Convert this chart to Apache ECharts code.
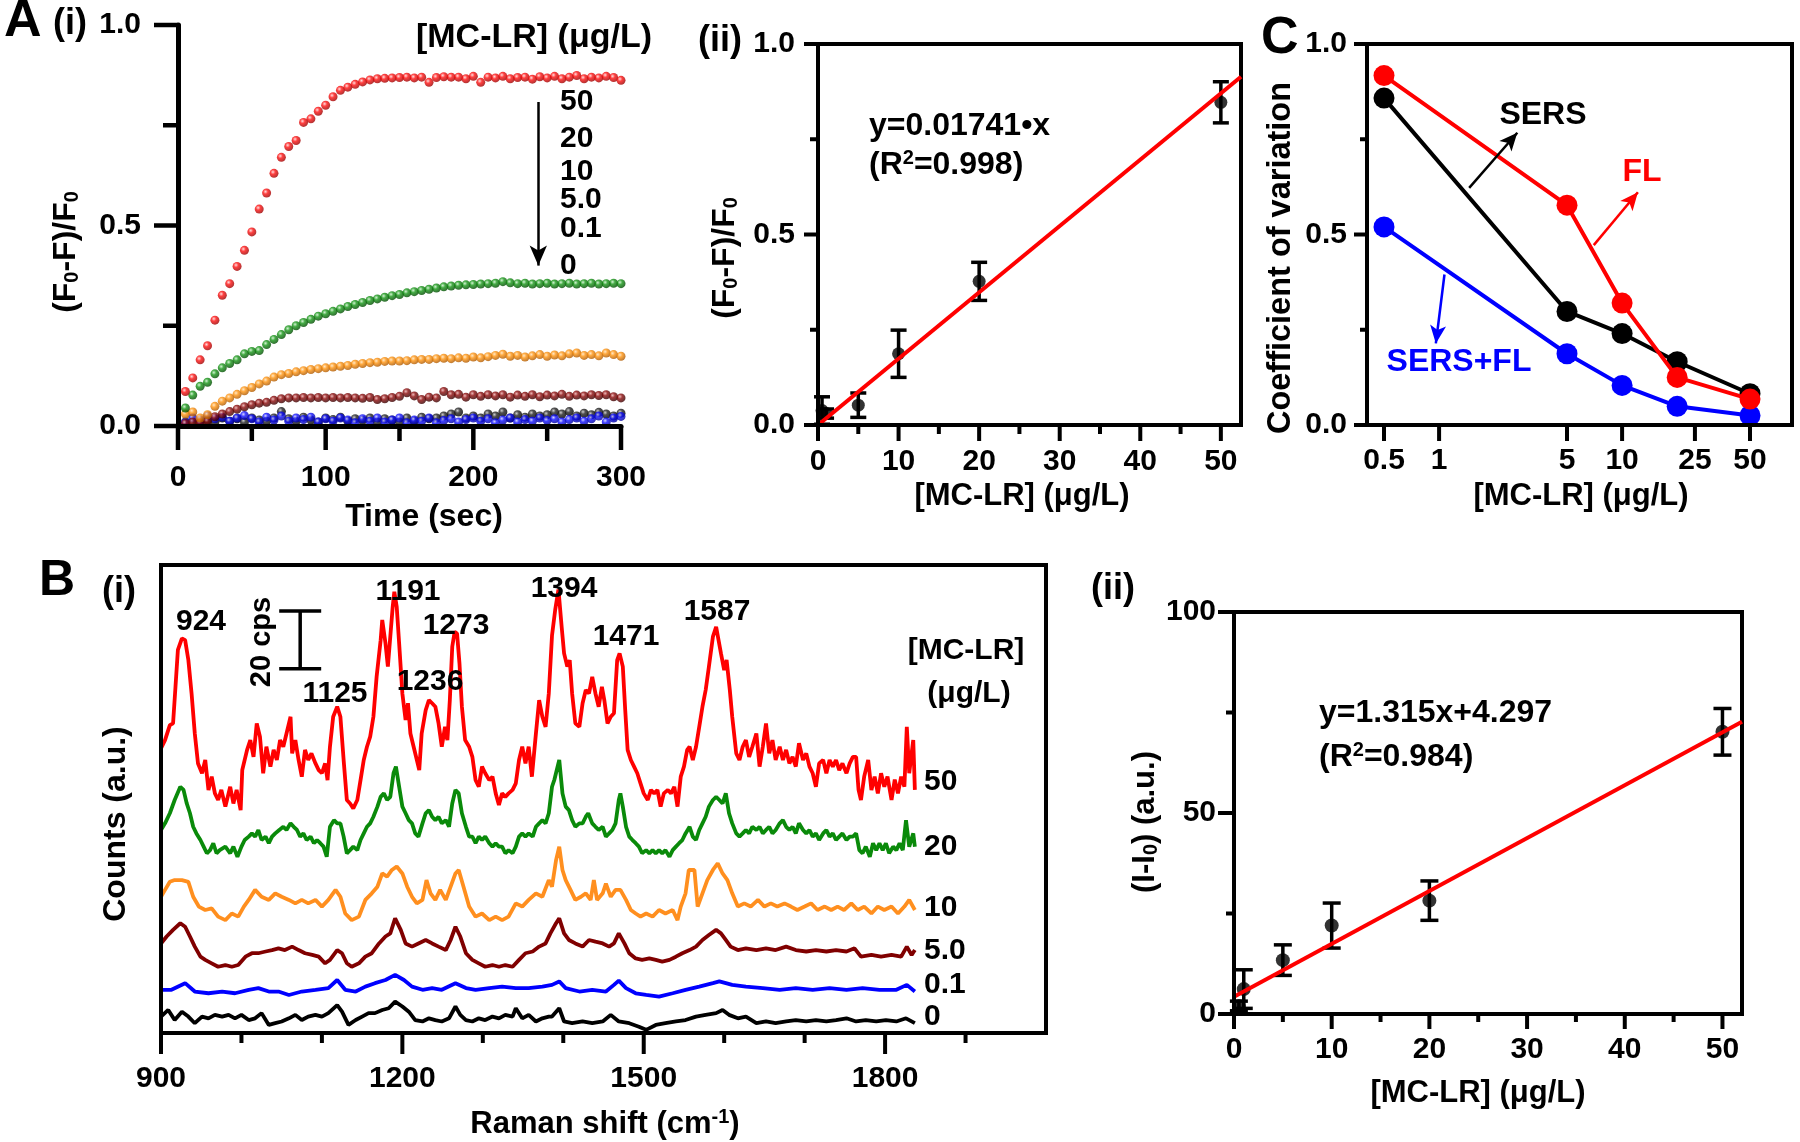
<!DOCTYPE html>
<html><head><meta charset="utf-8">
<script src="https://cdn.jsdelivr.net/npm/echarts@6.0.0/dist/echarts.min.js"></script>
<style>html,body{margin:0;padding:0;background:#fff}#c{width:1800px;height:1142px}</style>
</head><body><div id="c"></div>
<script>
// ---------- DATA ----------
// A(i): kinetics (F0-F)/F0 vs time (sec)
const tSec = [5,10,15,20,25,30,35,40,45,50,55,60,65,70,75,80,85,90,95,100,105,110,115,120,125,130,135,140,145,150,155,160,165,170,175,180,185,190,195,200,205,210,215,220,225,230,235,240,245,250,255,260,265,270,275,280,285,290,295,300];
const kin50 = [0.086,0.12,0.165,0.20,0.264,0.326,0.355,0.398,0.438,0.484,0.541,0.581,0.63,0.67,0.697,0.712,0.757,0.766,0.785,0.80,0.821,0.837,0.845,0.852,0.858,0.863,0.866,0.867,0.868,0.869,0.87,0.868,0.87,0.857,0.869,0.871,0.87,0.87,0.866,0.872,0.857,0.87,0.868,0.872,0.866,0.869,0.87,0.865,0.871,0.868,0.872,0.866,0.87,0.874,0.866,0.87,0.868,0.872,0.869,0.862];
const kin20 = [0.045,0.077,0.099,0.109,0.13,0.145,0.156,0.165,0.18,0.186,0.188,0.203,0.216,0.228,0.24,0.25,0.258,0.266,0.274,0.28,0.286,0.292,0.298,0.303,0.308,0.313,0.317,0.321,0.325,0.328,0.332,0.335,0.338,0.341,0.344,0.347,0.349,0.351,0.352,0.353,0.354,0.355,0.356,0.36,0.357,0.355,0.356,0.354,0.355,0.356,0.354,0.355,0.356,0.354,0.355,0.356,0.354,0.355,0.356,0.355];
const kin10 = [0.03,0.035,0.02,0.028,0.049,0.062,0.07,0.079,0.088,0.096,0.105,0.112,0.122,0.128,0.131,0.135,0.138,0.141,0.143,0.145,0.147,0.149,0.151,0.154,0.156,0.158,0.159,0.161,0.162,0.162,0.163,0.165,0.166,0.166,0.168,0.169,0.168,0.17,0.169,0.172,0.17,0.173,0.176,0.179,0.174,0.176,0.172,0.175,0.178,0.174,0.177,0.175,0.18,0.182,0.176,0.178,0.175,0.182,0.178,0.174];
const kin5 = [0.006,0.01,0.008,0.012,0.023,0.03,0.036,0.042,0.048,0.053,0.057,0.059,0.064,0.068,0.07,0.07,0.071,0.07,0.071,0.07,0.071,0.07,0.071,0.07,0.069,0.071,0.066,0.068,0.071,0.074,0.083,0.075,0.066,0.072,0.07,0.086,0.078,0.079,0.072,0.078,0.074,0.078,0.075,0.078,0.072,0.077,0.074,0.078,0.073,0.077,0.075,0.079,0.074,0.077,0.075,0.078,0.076,0.078,0.073,0.07];
const kin01 = [0.008,0.02,0.015,0.025,0.018,0.022,0.012,0.02,0.026,0.018,0.01,0.022,0.015,0.025,0.012,0.02,0.016,0.022,0.01,0.018,0.012,0.02,0.015,0.008,0.018,0.012,0.02,0.01,0.015,0.02,0.008,0.015,0.012,0.02,0.008,0.014,0.018,0.01,0.016,0.02,0.012,0.018,0.008,0.015,0.02,0.01,0.016,0.012,0.02,0.014,0.018,0.01,0.016,0.02,0.012,0.018,0.025,0.01,0.02,0.024];
const kin0 = [0.01,0.005,0.012,0.015,0.01,0.02,0.012,0.018,0.01,0.02,0.015,0.012,0.02,0.036,0.018,0.012,0.022,0.015,0.01,0.02,0.016,0.022,0.012,0.018,0.014,0.02,0.01,0.018,0.015,0.01,0.02,0.012,0.022,0.018,0.02,0.025,0.03,0.035,0.02,0.025,0.02,0.03,0.025,0.035,0.02,0.028,0.022,0.03,0.025,0.028,0.035,0.03,0.036,0.025,0.032,0.028,0.034,0.03,0.025,0.032];
const concLabels = ['50','20','10','5.0','0.1','0'];

// A(ii): FL calibration
const calConc = [0.5,1,5,10,20,50];
const flMean = [0.038,0.03,0.052,0.187,0.377,0.847];
const flErr  = [0.036,0.012,0.032,0.062,0.05,0.054];
const flFit  = [[0,0],[52.5,0.914]];          // y=0.01741x

// C: coefficient of variation
const cvConc = [0.5,5,10,20,50];
const cvFL   = [0.917,0.577,0.32,0.125,0.068];
const cvSERS = [0.858,0.298,0.24,0.166,0.082];
const cvBoth = [0.52,0.187,0.104,0.049,0.025];

// tick values
const tkTime = [0,100,200,300], tkTimeMinor = [50,150,250];
const tkUnit = [0,0.5,1], tkUnitMinor = [0.25,0.75];
const tkConc = [0,10,20,30,40,50], tkConcMinor = [5,15,25,35,45];
const tkCv = [0.5,1,5,10,25,50];
const tkRaman = [900,1200,1500,1800], tkRamanMinor = [1000,1100,1300,1400,1600,1700,1900];
const tkInt = [0,50,100], tkIntMinor = [25,75];

// B(i): SERS spectra [Raman shift, counts incl. stacking offset]
const spec50 = [[900,98.8],[905,101.7],[911,106.9],[915,107.5],[918,120.2],[921,133],[926,137],[930,136.4],[934,129.5],[938,117.9],[942,104],[946,93.6],[951,90.2],[955,94.8],[959,84.4],[963,89],[967,83.2],[971,80.9],[975,84.4],[980,78.6],[986,85.5],[990,79.7],[994,84.4],[999,77.4],[1001,91.3],[1007,98.3],[1011,101.7],[1015,95.9],[1019,107.5],[1023,102.9],[1027,90.2],[1031,99.4],[1036,92.5],[1040,98.3],[1044,94.8],[1048,101.7],[1052,99.4],[1056,104],[1061,109.8],[1063,97.1],[1067,101.7],[1071,94.8],[1075,89],[1079,98.3],[1083,94.8],[1087,97.1],[1092,93.6],[1096,91.3],[1100,90.2],[1104,93.6],[1107,87.8],[1110,99.4],[1114,109.8],[1119,113.3],[1123,109.8],[1127,94.8],[1131,80.9],[1135,79.7],[1139,78],[1144,80.9],[1148,87.8],[1152,94.8],[1156,99.4],[1160,102.9],[1164,109.8],[1168,123.7],[1173,136.4],[1175,143.4],[1179,135.3],[1182,127.2],[1185,137.6],[1188,148],[1190,153.2],[1193,148],[1196,135.3],[1200,117.9],[1204,108.7],[1207,114.5],[1210,104],[1214,99.4],[1218,94.8],[1221,91.3],[1224,104],[1229,112.1],[1233,115.6],[1237,114.5],[1241,113.3],[1245,107.5],[1249,99.4],[1253,106.3],[1256,101.7],[1259,115.6],[1262,134.1],[1265,139.3],[1268,138.7],[1271,128.3],[1274,113.3],[1278,101.7],[1283,99.4],[1287,95.9],[1291,87.8],[1295,85.5],[1299,92.5],[1303,90.2],[1308,87.8],[1312,89],[1316,83.2],[1320,79.2],[1324,83.2],[1328,82],[1332,83.2],[1337,84.4],[1341,86.7],[1345,94.8],[1349,99.4],[1353,93.6],[1357,99.4],[1361,89],[1366,104],[1370,115.6],[1374,109.8],[1378,106.3],[1382,117.9],[1386,138],[1390,147],[1394,154],[1398,141],[1401,131.8],[1405,127.2],[1408,129.5],[1411,117.9],[1415,107.5],[1420,106.3],[1424,114.5],[1428,119.1],[1432,117.9],[1436,123.7],[1440,117.9],[1444,113.3],[1448,120.2],[1451,115.6],[1455,107.5],[1459,109.8],[1463,111],[1467,129.5],[1470,131.8],[1474,127.2],[1477,112.1],[1480,98.3],[1484,94.8],[1488,92.5],[1492,90.2],[1496,86.7],[1500,83.2],[1505,80.9],[1509,84.4],[1513,83.2],[1517,84.4],[1521,78.6],[1525,83.2],[1530,84.4],[1534,83.2],[1538,85.5],[1542,78.6],[1546,89],[1550,92.5],[1554,98.3],[1557,99.4],[1561,94.8],[1565,99.4],[1569,106.3],[1573,113.3],[1577,119.1],[1581,127.2],[1586,137.6],[1590,141],[1593,136.4],[1596,131.8],[1600,126],[1603,129.5],[1607,119.1],[1610,109.8],[1615,97.1],[1619,94.8],[1623,99.4],[1627,101.7],[1631,95.9],[1635,99.4],[1640,104],[1644,92.5],[1648,99.4],[1652,107.5],[1656,97.1],[1660,101.7],[1664,94.8],[1669,99.4],[1673,94.8],[1677,98.3],[1681,93.6],[1685,95.9],[1689,92.5],[1693,100.6],[1698,94.8],[1702,97.1],[1706,92.5],[1710,90.2],[1714,85.5],[1718,93.6],[1723,94.8],[1727,90.2],[1731,94.8],[1735,92.5],[1739,94.8],[1743,91.3],[1747,93.6],[1752,90.2],[1756,93.6],[1760,95.9],[1764,95.9],[1767,84.4],[1770,80.9],[1774,89],[1779,94.8],[1783,84.4],[1787,89],[1791,83.2],[1795,90.2],[1799,85.5],[1803,89],[1808,80.9],[1812,88],[1816,83.2],[1820,89],[1824,85.5],[1827,106.3],[1830,90.2],[1835,101.7],[1837,84.4]];
const spec20 = [[900,70.5],[905,72.8],[911,76.3],[917,80.9],[924,85.5],[928,84.4],[932,79.7],[936,76.3],[940,71.6],[944,69.3],[949,67],[953,64.7],[957,62.4],[961,63.5],[965,65.9],[969,62.4],[973,63.5],[980,64.7],[986,62.4],[990,64.7],[995,61.2],[1000,64.7],[1004,67],[1009,68.2],[1013,69.3],[1017,68.2],[1021,70.5],[1025,67],[1030,68.2],[1034,65.9],[1038,68.2],[1042,69.3],[1047,70.5],[1052,71.6],[1056,70.5],[1061,72.8],[1065,71.6],[1069,70.5],[1073,68.2],[1077,69.3],[1081,67],[1086,68.2],[1090,65.9],[1094,67],[1098,65.9],[1102,64.7],[1106,61.2],[1110,71.6],[1115,73.9],[1119,72.8],[1123,72.8],[1127,68.2],[1131,62.4],[1135,63.5],[1139,64.7],[1144,63.5],[1148,67],[1152,69.3],[1156,71.6],[1160,72.8],[1164,75.1],[1169,78.6],[1173,82],[1177,83.2],[1181,80.9],[1185,82],[1189,90.2],[1192,92.5],[1196,85.5],[1200,78.6],[1204,76.3],[1208,73.9],[1212,72.8],[1216,69.3],[1220,68.2],[1225,72.8],[1229,76.3],[1233,77.4],[1237,75.1],[1241,73.9],[1245,75.1],[1249,72.8],[1254,73.9],[1258,71.6],[1262,79.7],[1266,84.4],[1270,83.2],[1274,76.3],[1279,71.6],[1283,68.2],[1287,68.2],[1291,65.9],[1295,68.2],[1299,67],[1303,68.2],[1308,65.9],[1312,64.7],[1316,65.9],[1320,64.7],[1324,64.7],[1328,62.4],[1332,63.5],[1337,62.4],[1341,64.7],[1345,68.2],[1349,69.3],[1353,68.2],[1357,69.3],[1362,68.2],[1366,71.6],[1370,72.8],[1374,73.9],[1378,72.8],[1382,76.3],[1386,85.5],[1389,88],[1395,94.8],[1399,83.2],[1403,78.6],[1407,77.4],[1411,73.9],[1415,71.6],[1420,72.8],[1424,72.8],[1428,75.1],[1431,76.3],[1436,72.8],[1440,71.6],[1444,70.5],[1449,71.6],[1453,68.2],[1457,69.3],[1461,70.5],[1465,72.8],[1469,80.9],[1471,83.2],[1474,78.6],[1478,71.6],[1482,68.2],[1486,67],[1490,65.9],[1494,64.7],[1498,62.4],[1503,63.5],[1507,62.4],[1511,63.5],[1515,62.4],[1519,63.5],[1523,62.4],[1527,63.5],[1532,61.2],[1536,63.5],[1540,64.7],[1544,65.9],[1548,67],[1552,69.3],[1557,71.6],[1561,68.2],[1565,67],[1569,70.5],[1573,72.8],[1577,75.1],[1581,78.6],[1586,80.9],[1590,82],[1594,80.9],[1598,79.7],[1602,83.2],[1606,76.3],[1610,72.8],[1615,69.3],[1619,68.2],[1623,69.3],[1627,70.5],[1631,69.3],[1635,71.6],[1640,70.5],[1644,71.6],[1648,69.3],[1652,70.5],[1656,71.6],[1660,69.3],[1664,70.5],[1669,72.8],[1673,73.9],[1677,71.6],[1681,70.5],[1685,71.6],[1689,69.3],[1693,72.8],[1698,70.5],[1702,69.3],[1706,70.5],[1710,68.2],[1714,69.3],[1718,67],[1723,69.3],[1727,70.5],[1731,68.2],[1735,69.3],[1739,67],[1743,68.2],[1747,69.3],[1752,67],[1756,68.2],[1760,68.2],[1764,69.3],[1768,63.5],[1772,62.4],[1776,64.7],[1781,61.2],[1785,65.9],[1789,63.5],[1793,65.9],[1797,63.5],[1801,65.9],[1805,62.4],[1810,64.7],[1814,63.5],[1818,65.9],[1822,63.5],[1826,73.9],[1830,64.7],[1835,69.3],[1837,64.7]];
const spec10 = [[900,47.3],[905,49.7],[911,52.5],[917,53.1],[926,53.1],[934,52.5],[940,47.3],[947,43.9],[955,42.7],[963,43.3],[971,40.4],[980,39.2],[988,41.5],[996,40.4],[1003,43.9],[1009,46.2],[1017,49.7],[1025,47.3],[1034,46.2],[1042,48.5],[1050,47.3],[1059,46.2],[1067,45],[1075,46.2],[1083,45],[1092,46.2],[1100,43.9],[1108,46.2],[1117,49.7],[1123,47.3],[1129,41.5],[1137,39.2],[1146,40.4],[1154,46.2],[1162,48.5],[1169,50.8],[1175,55.4],[1181,54.3],[1187,56.6],[1193,57.8],[1200,55.4],[1206,50.8],[1212,47.3],[1218,45],[1225,46.2],[1230,53.1],[1235,48.5],[1241,46.2],[1247,49.7],[1254,46.2],[1260,50.8],[1266,55.4],[1270,56.6],[1276,50.8],[1283,43.9],[1291,40.4],[1299,41.5],[1308,39.2],[1316,40.4],[1324,39.2],[1332,40.4],[1341,45],[1349,43.9],[1357,46.2],[1366,48.5],[1374,47.3],[1382,53.1],[1386,50.8],[1391,60],[1395,64.7],[1399,56.6],[1403,53.1],[1409,49.7],[1415,46.2],[1422,47.3],[1428,48.5],[1434,46.2],[1438,53.1],[1442,46.2],[1449,48.5],[1453,51.9],[1459,47.3],[1465,49.7],[1471,49.7],[1478,46.2],[1484,42.7],[1490,41.5],[1496,40.4],[1503,41.5],[1511,40.4],[1519,42.7],[1527,41.5],[1536,42.7],[1542,39.2],[1546,43.9],[1552,48.5],[1556,56.6],[1563,56.6],[1567,43.9],[1573,48.5],[1579,53.1],[1586,56.6],[1592,58.9],[1598,55.4],[1604,53.1],[1610,48.5],[1617,43.9],[1625,45],[1633,43.9],[1642,46.2],[1650,43.9],[1658,45],[1666,43.9],[1675,45],[1683,43.9],[1691,42.7],[1700,43.9],[1708,45],[1716,42.7],[1725,43.9],[1733,42.7],[1741,43.9],[1749,42.7],[1758,45],[1766,42.7],[1774,43.9],[1783,41.5],[1791,43.9],[1799,42.7],[1808,43.9],[1816,41.5],[1824,43.9],[1830,46.2],[1837,42.7]];
const spec5 = [[900,31.1],[907,33.5],[915,35.8],[924,38.1],[930,36.9],[936,33.5],[942,30],[949,26.5],[955,25.4],[963,24.2],[971,23],[980,23.6],[988,23],[996,23.6],[1005,26.5],[1013,27.7],[1021,27.7],[1030,28.3],[1038,28.8],[1046,29.4],[1054,28.8],[1063,30],[1071,28.8],[1079,27.7],[1088,27.1],[1096,26.5],[1104,24.2],[1110,25.4],[1119,28.8],[1125,27.7],[1131,24.2],[1137,23],[1146,24.2],[1154,26.5],[1162,27.7],[1171,31.1],[1179,33.5],[1185,34.6],[1191,39.8],[1198,35.8],[1204,31.1],[1212,30],[1220,31.1],[1229,32.3],[1237,31.1],[1245,30],[1254,28.8],[1260,32.3],[1266,36.9],[1272,33.5],[1279,27.7],[1287,25.4],[1295,24.2],[1303,23],[1312,23.6],[1320,23],[1328,23.6],[1337,23],[1345,25.4],[1353,27.7],[1362,28.3],[1370,30],[1378,31.1],[1384,34.6],[1391,38.1],[1395,39.8],[1401,34.6],[1407,32.3],[1415,31.1],[1424,30],[1432,32.3],[1440,31.7],[1449,31.1],[1457,30],[1463,31.1],[1469,34.6],[1476,31.1],[1482,27.7],[1490,25.9],[1498,25.4],[1507,25.9],[1515,25.4],[1523,24.8],[1532,25.4],[1540,26.5],[1548,27.7],[1557,28.8],[1565,30],[1573,32.3],[1581,34],[1590,35.8],[1596,34.6],[1602,32.3],[1608,30],[1617,28.8],[1627,29.4],[1640,28.8],[1652,29.4],[1664,28.8],[1677,30],[1689,28.8],[1702,28.3],[1714,28.8],[1727,28.3],[1739,28.8],[1752,28.3],[1762,29.4],[1770,26.5],[1783,27.1],[1795,26.5],[1808,27.1],[1820,26.5],[1827,30],[1833,27.1],[1837,28.8]];
const spec01 = [[900,15],[913,15],[930,17.3],[942,14.4],[959,13.8],[976,14.4],[992,13.8],[1009,15],[1021,15.6],[1034,14.4],[1046,14.4],[1059,13.2],[1075,14.4],[1092,15],[1108,15.6],[1119,18.4],[1129,15],[1142,14.4],[1154,16.1],[1166,17.3],[1179,18.4],[1191,20.2],[1202,18.4],[1212,16.1],[1225,15],[1237,15.6],[1249,15],[1266,17.3],[1279,15.6],[1291,15],[1308,15.6],[1324,16.1],[1341,15.6],[1357,15.6],[1374,16.1],[1386,16.7],[1395,17.9],[1403,15.6],[1420,14.4],[1436,15],[1453,14.4],[1463,16.7],[1469,18.2],[1478,15.6],[1490,13.8],[1503,13.2],[1519,12.6],[1536,13.8],[1552,15],[1569,16.1],[1586,17.3],[1594,17.9],[1610,16.7],[1627,16.1],[1648,15.6],[1669,15],[1689,15.6],[1710,15],[1731,15.6],[1752,15],[1772,15.6],[1793,15],[1814,15],[1827,16.7],[1837,14.4]];
const spec0 = [[900,5.7],[909,8],[917,4.5],[926,7.4],[934,5.7],[942,3.4],[951,5.7],[959,5.1],[967,6.3],[976,5.7],[984,6.3],[992,5.1],[1000,6.3],[1009,4.5],[1017,5.1],[1025,6.9],[1034,2.8],[1042,3.4],[1050,4],[1059,5.1],[1067,6.3],[1075,4.5],[1083,5.7],[1092,6.3],[1100,5.7],[1108,6.9],[1119,9.7],[1125,7.4],[1133,2.8],[1142,4.5],[1150,5.7],[1158,6.9],[1166,6.9],[1175,8],[1183,8.6],[1191,10.9],[1200,9.2],[1208,7.4],[1216,4.5],[1225,4],[1233,5.1],[1241,4.5],[1249,4],[1258,5.1],[1266,9.2],[1272,6.3],[1279,4.5],[1287,4],[1295,5.1],[1303,4.5],[1312,5.7],[1320,5.1],[1328,6.3],[1337,5.7],[1341,8.6],[1349,5.1],[1357,6.3],[1366,4],[1374,5.1],[1382,5.7],[1386,5.7],[1395,8.6],[1401,4],[1411,3.4],[1424,4],[1436,3.4],[1449,4],[1459,6.3],[1469,4],[1482,3.4],[1494,2.2],[1503,1.1],[1515,2.8],[1527,3.4],[1540,4],[1552,4.5],[1565,5.7],[1577,6.3],[1590,6.9],[1598,8],[1606,6.3],[1617,5.1],[1627,5.7],[1640,3.4],[1652,4],[1664,3.4],[1677,4],[1689,4.5],[1702,4],[1714,4.5],[1727,4],[1739,4.5],[1752,5.1],[1764,4],[1776,4.5],[1789,4],[1801,4.5],[1814,4],[1826,5.1],[1837,3.4]];
const peakLabels = ['924','1125','1191','1236','1273','1394','1471','1587'];
const scaleBar = [[1073,126.5,146.5]];   // 20 cps

// B(ii): SERS calibration
const sersMean = [2,6.2,13.4,22.0,28.2,70.2];
const sersErr  = [1.2,4.8,3.8,5.6,4.9,5.8];
const sersFit  = [[0,4.3],[52,72.7]];    // y=1.315x+4.297

// ---------- HELPERS ----------
const FONT = 'Arial, "Liberation Sans", Helvetica, sans-serif';
const RED='#ff0000', GREEN='#0a8a0a', ORANGE='#ff8f1f', BROWN='#800000', BLUE='#0000ff', BLACK='#000000';

function mkAxis(o){
  return {
    type: o.type || 'value', gridIndex: o.grid, position: o.pos, min: o.min, max: o.max,
    axisLine: {show: true, onZero:false, lineStyle:{color:'#000', width:o.lw||4}},
    axisTick: {show:false}, minorTick:{show:false},
    axisLabel: o.noLabel ? {show:false} : {show:true, margin:o.margin, color:'#000', fontSize:o.fs||30, fontWeight:'bold', fontFamily:FONT,
      showMinLabel:true, showMaxLabel:true, customValues:o.labelValues, formatter:o.fmt || (v => String(v))},
    splitLine:{show:false}, z:5
  };
}
const f1 = v => v.toFixed(1);

// all outward tick marks of one panel, placed through the axis scales
function tickGroup(xi, yi, anchor, specs){
  return {
    type:'custom', xAxisIndex:xi, yAxisIndex:yi, clip:false, silent:true, z:6,
    encode:{x:0, y:1}, data:[anchor],
    renderItem: function(params, api){
      const children = [];
      specs.forEach(function(s){
        s.vals.forEach(function(v){
          const p = s.dir==='x' ? api.coord([v, s.ref]) : api.coord([s.ref, v]);
          if (s.dir==='x') children.push({type:'rect', shape:{x:p[0]-s.lw/2, y:p[1], width:s.lw, height:s.len}, style:{fill:'#000'}});
          else children.push({type:'rect', shape:{x:p[0]-s.len, y:p[1]-s.lw/2, width:s.len, height:s.lw}, style:{fill:'#000'}});
        });
      });
      return {type:'group', children:children};
    }
  };
}

function errRender(capHalf, lw){
  return function(params, api){
    const x = api.value(0), lo = api.value(1), hi = api.value(2);
    const a = api.coord([x, lo]), b = api.coord([x, hi]);
    const h = lw/2;
    const fill = {fill:'#000'};
    return {type:'group', children:[
      {type:'rect', shape:{x:a[0]-h, y:b[1], width:lw, height:a[1]-b[1]}, style:fill},
      {type:'rect', shape:{x:a[0]-capHalf, y:a[1]-h, width:capHalf*2, height:lw}, style:fill},
      {type:'rect', shape:{x:b[0]-capHalf, y:b[1]-h, width:capHalf*2, height:lw}, style:fill}
    ]};
  };
}
function sphere(light, mid, dark){
  return {type:'radial', x:0.38, y:0.35, r:0.65, colorStops:[{offset:0,color:light},{offset:0.4,color:mid},{offset:1,color:dark}]};
}
function kinSeries(vals, col){
  return {type:'scatter', xAxisIndex:0, yAxisIndex:0, symbol:'circle', symbolSize:9,
    itemStyle:{color:col}, data: tSec.map((t,i)=>[t, vals[i]]), z:3};
}
function richSet(size){
  const s = Math.round(size*0.64);
  return {
    t:{fontSize:size, fontWeight:'bold', fontFamily:FONT, fill:'#000'},
    s:{fontSize:s, fontWeight:'bold', fontFamily:FONT, fill:'#000', padding:[Math.round(size*0.42),0,0,0]},
    p:{fontSize:s, fontWeight:'bold', fontFamily:FONT, fill:'#000', padding:[0,0,Math.round(size*0.42),0]}
  };
}
function TXT(x, y, text, o){
  o = o || {};
  const st = {text:text, fill:o.color||'#000', fontSize:o.size||31, fontWeight:o.weight||'bold', fontFamily:FONT,
    align:o.align||'center', verticalAlign:'middle'};
  if (o.rich) st.rich = o.rich;
  return {type:'text', x:x, y:y, rotation:o.rot||0, z:100, silent:true, style:st};
}
const ROT = Math.PI/2;

// ---------- TEXT ----------
const peakPos = [[201,622],[335,694],[408,592],[430,682],[456,626],[564,589],[626,637],[717,612]];
const concYA = [102,139,172,200,229,266];
const concYB = [782,847,908,951,985,1017];
const texts = [
  TXT(4,22,'A',{size:52,align:'left'}),
  TXT(70,24,'(i)',{size:36}),
  TXT(66,252,'{t|(F}{s|0}{t|-F)/F}{s|0}',{rot:ROT, rich:richSet(32)}),
  TXT(424,517,'Time (sec)',{size:32}),
  TXT(534,38,'[MC-LR] (μg/L)',{size:34}),
  TXT(720,41,'(ii)',{size:36}),
  TXT(725,258,'{t|(F}{s|0}{t|-F)/F}{s|0}',{rot:ROT, rich:richSet(32)}),
  TXT(1022,496,'[MC-LR] (μg/L)'),
  TXT(869,126,'y=0.01741•x',{size:32,align:'left'}),
  TXT(869,165,'{t|(R}{p|2}{t|=0.998)}',{align:'left', rich:richSet(32)}),
  TXT(1261,39,'C',{size:52,align:'left'}),
  TXT(1281,258,'Coefficient of variation',{rot:ROT, size:32.5}),
  TXT(1581,496,'[MC-LR] (μg/L)'),
  TXT(1543,115,'SERS',{size:32}),
  TXT(1642,172,'FL',{size:32,color:RED}),
  TXT(1459,362,'SERS+FL',{size:32,color:BLUE}),
  TXT(39,581,'B',{size:50,align:'left'}),
  TXT(119,592,'(i)',{size:36}),
  TXT(262,642,'20 cps',{size:29,rot:ROT}),
  TXT(966,651,'[MC-LR]',{size:30}),
  TXT(969,694,'(μg/L)',{size:30}),
  TXT(116,824,'Counts (a.u.)',{rot:ROT, size:32}),
  TXT(605,1124,'{t|Raman shift (cm}{p|-1}{t|)}',{rich:richSet(31)}),
  TXT(1113,589,'(ii)',{size:36}),
  TXT(1145,822,'{t|(I-I}{s|0}{t|) (a.u.)}',{rot:ROT, rich:richSet(31)}),
  TXT(1478,1093,'[MC-LR] (μg/L)'),
  TXT(1319,713,'y=1.315x+4.297',{size:32,align:'left'}),
  TXT(1319,757,'{t|(R}{p|2}{t|=0.984)}',{align:'left', rich:richSet(32)})
];
concLabels.forEach((s,i)=>{ texts.push(TXT(560, concYA[i], s, {size:30,align:'left'})); });
concLabels.forEach((s,i)=>{ texts.push(TXT(924, concYB[i], s, {size:30,align:'left'})); });
peakLabels.forEach((s,i)=>{ texts.push(TXT(peakPos[i][0], peakPos[i][1], s, {size:30})); });

// ---------- OPTION ----------
const border = {show:true, borderColor:'#000', borderWidth:4, backgroundColor:'transparent'};
const CVMIN = 0.4037, CVMAX = 84.8;
const option = {
  animation:false,
  backgroundColor:'#fff',
  grid:[
    {left:178, top:25, width:443, height:401, show:false, outerBoundsMode:'none'},
    Object.assign({left:818, top:44, width:423, height:381, outerBoundsMode:'none'}, border),
    Object.assign({left:1367, top:44, width:425, height:381, outerBoundsMode:'none'}, border),
    Object.assign({left:161, top:565, width:885, height:468, outerBoundsMode:'none'}, border),
    Object.assign({left:1234, top:612, width:508, height:402, outerBoundsMode:'none'}, border)
  ],
  xAxis:[
    mkAxis({grid:0, pos:'bottom', min:0, max:300, labelValues:tkTime, margin:37, lw:5}),
    mkAxis({grid:1, pos:'bottom', min:0, max:52.5, labelValues:tkConc, margin:22}),
    mkAxis({grid:2, pos:'bottom', type:'log', min:CVMIN, max:CVMAX, labelValues:tkCv, margin:21}),
    mkAxis({grid:3, pos:'bottom', min:900, max:2000, labelValues:tkRaman, margin:31}),
    mkAxis({grid:4, pos:'bottom', min:0, max:52, labelValues:tkConc, margin:21})
  ],
  yAxis:[
    mkAxis({grid:0, pos:'left', min:0, max:1, labelValues:tkUnit, margin:37, fmt:f1, lw:5}),
    mkAxis({grid:1, pos:'left', min:0, max:1, labelValues:tkUnit, margin:23, fmt:f1}),
    mkAxis({grid:2, pos:'left', min:0, max:1, labelValues:tkUnit, margin:20, fmt:f1}),
    mkAxis({grid:3, pos:'left', min:0, max:162.5, noLabel:true}),
    mkAxis({grid:4, pos:'left', min:0, max:100, labelValues:tkInt, margin:18})
  ],
  graphic:{elements:texts},
  series:[
    // ticks
    tickGroup(0,0,[0,0],[
      {dir:'x', vals:tkTime, ref:0, len:24, lw:4.5}, {dir:'x', vals:tkTimeMinor, ref:0, len:15, lw:4.5},
      {dir:'y', vals:tkUnit, ref:0, len:24, lw:4.5}, {dir:'y', vals:tkUnitMinor, ref:0, len:15, lw:4.5}]),
    tickGroup(1,1,[0,0],[
      {dir:'x', vals:tkConc, ref:0, len:16, lw:4}, {dir:'x', vals:tkConcMinor, ref:0, len:9, lw:4},
      {dir:'y', vals:tkUnit, ref:0, len:14, lw:4}, {dir:'y', vals:tkUnitMinor, ref:0, len:8, lw:4}]),
    tickGroup(2,2,[CVMIN,0],[
      {dir:'x', vals:tkCv, ref:0, len:16, lw:4},
      {dir:'y', vals:tkUnit, ref:CVMIN, len:13, lw:4}, {dir:'y', vals:tkUnitMinor, ref:CVMIN, len:7, lw:4}]),
    tickGroup(3,3,[900,0],[
      {dir:'x', vals:tkRaman, ref:0, len:21, lw:4}, {dir:'x', vals:tkRamanMinor, ref:0, len:10, lw:4}]),
    tickGroup(4,4,[0,0],[
      {dir:'x', vals:tkConc, ref:0, len:15, lw:4}, {dir:'x', vals:tkConcMinor, ref:0, len:8, lw:4},
      {dir:'y', vals:tkInt, ref:0, len:16, lw:4}, {dir:'y', vals:tkIntMinor, ref:0, len:8, lw:4}]),
    // A(i)
    kinSeries(kin0, sphere('#c0c0c0','#222222','#000000')),
    kinSeries(kin01, sphere('#c8c8ff','#1010ff','#0000a0')),
    kinSeries(kin5, sphere('#e8a8a8','#8b0a0a','#3a0000')),
    kinSeries(kin10, sphere('#ffe2b8','#ff9410','#b05a00')),
    kinSeries(kin20, sphere('#c8f0c8','#169616','#004d00')),
    Object.assign(kinSeries(kin50, sphere('#ffd6d6','#ff1010','#a00000')), {
      markLine:{silent:true, symbol:['none','arrow'], symbolSize:[13,20], animation:false,
        lineStyle:{color:'#000', width:2.5, type:'solid'}, label:{show:false},
        data:[[{coord:[244,0.808]},{coord:[244,0.40]}]]}
    }),
    // A(ii)
    {type:'custom', xAxisIndex:1, yAxisIndex:1, clip:false, renderItem:errRender(8,3.5), encode:{x:0,y:[1,2]},
      data: calConc.map((c,i)=>[c, flMean[i]-flErr[i], flMean[i]+flErr[i]]), z:3},
    {type:'scatter', xAxisIndex:1, yAxisIndex:1, symbolSize:13, itemStyle:{color:'#000'},
      data: calConc.map((c,i)=>[c, flMean[i]]), z:3},
    {type:'line', xAxisIndex:1, yAxisIndex:1, showSymbol:false, symbol:'none', lineStyle:{color:RED, width:4}, data:flFit, z:4},
    // C
    {type:'line', xAxisIndex:2, yAxisIndex:2, symbol:'circle', symbolSize:21, lineStyle:{color:BLACK, width:4}, itemStyle:{color:BLACK},
      data: cvConc.map((c,i)=>[c, cvSERS[i]]), z:3,
      markLine:{silent:true, symbol:['none','arrow'], symbolSize:[12,18], lineStyle:{color:BLACK, width:2.5, type:'solid'}, label:{show:false},
        data:[[{coord:[1.46,0.6225]},{coord:[2.675,0.767]}]]}},
    {type:'line', xAxisIndex:2, yAxisIndex:2, symbol:'circle', symbolSize:21, lineStyle:{color:BLUE, width:4}, itemStyle:{color:BLUE},
      data: cvConc.map((c,i)=>[c, cvBoth[i]]), z:3,
      markLine:{silent:true, symbol:['none','arrow'], symbolSize:[12,18], lineStyle:{color:BLUE, width:2.5, type:'solid'}, label:{show:false},
        data:[[{coord:[1.07,0.395]},{coord:[0.96,0.214]}]]}},
    {type:'line', xAxisIndex:2, yAxisIndex:2, symbol:'circle', symbolSize:21, lineStyle:{color:RED, width:4}, itemStyle:{color:RED},
      data: cvConc.map((c,i)=>[c, cvFL[i]]), z:4,
      markLine:{silent:true, symbol:['none','arrow'], symbolSize:[12,18], lineStyle:{color:RED, width:2.5, type:'solid'}, label:{show:false},
        data:[[{coord:[7.0,0.472]},{coord:[12.2,0.611]}]]}},
    // B(i)
    {type:'line', xAxisIndex:3, yAxisIndex:3, showSymbol:false, symbol:'none', lineStyle:{color:BLACK, width:3.8}, data:spec0, z:3},
    {type:'line', xAxisIndex:3, yAxisIndex:3, showSymbol:false, symbol:'none', lineStyle:{color:BLUE, width:3.8}, data:spec01, z:3},
    {type:'line', xAxisIndex:3, yAxisIndex:3, showSymbol:false, symbol:'none', lineStyle:{color:BROWN, width:3.8}, data:spec5, z:3},
    {type:'line', xAxisIndex:3, yAxisIndex:3, showSymbol:false, symbol:'none', lineStyle:{color:ORANGE, width:3.8}, data:spec10, z:3},
    {type:'line', xAxisIndex:3, yAxisIndex:3, showSymbol:false, symbol:'none', lineStyle:{color:GREEN, width:3.8}, data:spec20, z:3},
    {type:'line', xAxisIndex:3, yAxisIndex:3, showSymbol:false, symbol:'none', lineStyle:{color:RED, width:3.8}, data:spec50, z:3},
    {type:'custom', xAxisIndex:3, yAxisIndex:3, clip:false, renderItem:errRender(21,3.5), encode:{x:0,y:[1,2]}, data:scaleBar, z:3},
    // B(ii)
    {type:'custom', xAxisIndex:4, yAxisIndex:4, clip:false, renderItem:errRender(9,3.5), encode:{x:0,y:[1,2]},
      data: calConc.map((c,i)=>[c, sersMean[i]-sersErr[i], sersMean[i]+sersErr[i]]), z:3},
    {type:'scatter', xAxisIndex:4, yAxisIndex:4, symbolSize:14, itemStyle:{color:'#000'},
      data: calConc.map((c,i)=>[c, sersMean[i]]), z:3},
    {type:'line', xAxisIndex:4, yAxisIndex:4, showSymbol:false, symbol:'none', lineStyle:{color:RED, width:4}, data:sersFit, z:4}
  ]
};
const chart = echarts.init(document.getElementById('c'), null, {renderer:'canvas', width:1800, height:1142});
chart.setOption(option);
</script></body></html>
